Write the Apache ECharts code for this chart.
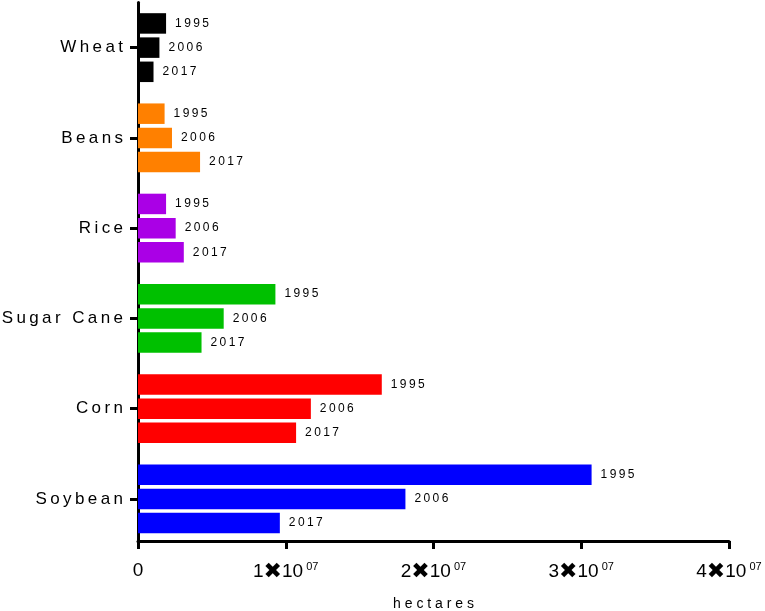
<!DOCTYPE html>
<html lang="en">
<head>
    <meta charset="UTF-8">
    <title>Crop area</title>
    <style>
        * {
            margin: 0;
            padding: 0;
        }

        html,
        body {
            width: 100%;
            height: 100%;
            background: #fff;
        }

        #chart {
            width: 765px;
            height: 611px;
        }
    </style>
</head>
<body>
    <div id="chart"></div>
</body>
<script src="https://cdn.jsdelivr.net/npm/echarts@6/dist/echarts.min.js"></script>
<script>
    // crops, top to bottom
    const crops = ['Wheat', 'Beans', 'Rice', 'Sugar Cane', 'Corn', 'Soybean']
    const years = ['1995', '2006', '2017']
    // hectares per year, same order as crops
    const area1995 = [1900000, 1800000, 1900000, 9300000, 16500000, 30700000]
    const area2006 = [1450000, 2300000, 2550000, 5800000, 11700000, 18100000]
    const area2017 = [1050000, 4200000, 3100000, 4300000, 10700000, 9600000]
    const xTicks = [0, 10000000, 20000000, 30000000, 40000000]

    const cropColors = ['#000000', '#ff8000', '#aa00e6', '#00c000', '#ff0000', '#0000ff']
    const font = "'Liberation Sans', Arial, sans-serif"

    // the original uses wide letter spacing, fake it with thin spaces
    function spaced(s, sep) {
        return s.split('').join(sep || '\u2009')
    }

    let chart = echarts.init(document.getElementById('chart'))

    let series = [area1995, area2006, area2017].map(function (d, i) {
        return {
            name: years[i],
            type: 'bar',
            data: d,
            barWidth: 20.5,
            barGap: '18%',
            itemStyle: {
                color: function (p) {
                    return cropColors[p.dataIndex]
                }
            },
            label: {
                show: true,
                position: 'right',
                distance: 9,
                color: '#000',
                fontFamily: font,
                fontSize: 12,
                formatter: function (p) {
                    return spaced(p.seriesName)
                }
            },
            animation: false
        }
    })

    chart.setOption({
        backgroundColor: '#fff',
        grid: {
            left: 138,
            right: 36,
            top: 2.5,
            bottom: 67,
            outerBoundsMode: 'none'
        },
        xAxis: {
            type: 'value',
            min: xTicks[0],
            max: xTicks[xTicks.length - 1],
            interval: xTicks[1] - xTicks[0],
            offset: -3,
            name: spaced('hectares', ' '),
            nameLocation: 'middle',
            nameGap: 56,
            nameTextStyle: {
                color: '#000',
                fontFamily: font,
                fontSize: 14
            },
            axisLine: {
                show: true,
                lineStyle: { color: '#000', width: 3 }
            },
            axisTick: {
                show: true,
                length: 8,
                lineStyle: { color: '#000', width: 3 }
            },
            splitLine: { show: false },
            axisLabel: {
                margin: 20,
                color: '#000',
                fontFamily: font,
                fontSize: 19,
                formatter: function (v) {
                    if (v === 0) return '0'
                    return '{n|' + (v / 1e7) + '}{x|\u2716}{n|10}{s| 07}'
                },
                rich: {
                    n: { fontFamily: font, fontSize: 19, color: '#000' },
                    x: { fontFamily: 'DejaVu Sans', fontSize: 22, color: '#000' },
                    s: { fontFamily: font, fontSize: 11, color: '#000', verticalAlign: 'top', padding: [0, 0, 10, 0] }
                }
            }
        },
        yAxis: {
            type: 'category',
            data: crops,
            inverse: true,
            axisLine: {
                show: true,
                lineStyle: { color: '#000', width: 3 }
            },
            axisTick: {
                show: true,
                alignWithLabel: true,
                length: 8,
                lineStyle: { color: '#000', width: 3 }
            },
            axisLabel: {
                margin: 15,
                color: '#000',
                fontFamily: font,
                fontSize: 17,
                formatter: function (v) {
                    return spaced(v)
                }
            }
        },
        series: series
    })
</script>
</html>
